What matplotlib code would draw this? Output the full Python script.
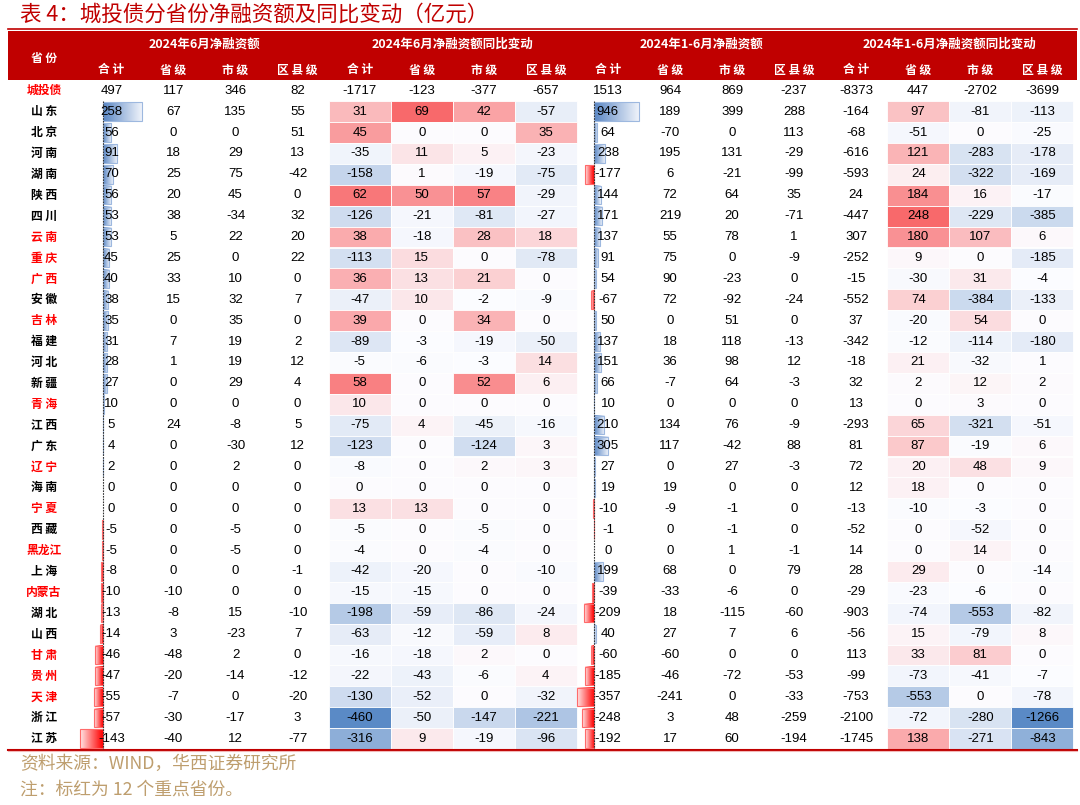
import numpy as np
import matplotlib.pyplot as plt
from matplotlib.colors import LinearSegmentedColormap, TwoSlopeNorm
from matplotlib.patches import Rectangle

plt.rcParams['font.family'] = ['Noto Sans CJK SC', 'DejaVu Sans']

# ---- data (亿元) ----
provinces = ['城投债', '山东', '北京', '河南', '湖南', '陕西', '四川', '云南', '重庆', '广西',
             '安徽', '吉林', '福建', '河北', '新疆', '青海', '江西', '广东', '辽宁', '海南',
             '宁夏', '西藏', '黑龙江', '上海', '内蒙古', '湖北', '山西', '甘肃', '贵州', '天津',
             '浙江', '江苏']
key_provinces = ['城投债', '云南', '重庆', '广西', '吉林', '青海', '辽宁', '宁夏', '黑龙江',
                 '内蒙古', '甘肃', '贵州', '天津']

# 2024年6月净融资额
jun_total = [497, 258, 56, 91, 70, 56, 53, 53, 45, 40, 38, 35, 31, 28, 27, 10, 5, 4, 2, 0, 0,
             -5, -5, -8, -10, -13, -14, -46, -47, -55, -57, -143]
jun_prov = [117, 67, 0, 18, 25, 20, 38, 5, 25, 33, 15, 0, 7, 1, 0, 0, 24, 0, 0, 0, 0,
            0, 0, 0, -10, -8, 3, -48, -20, -7, -30, -40]
jun_city = [346, 135, 0, 29, 75, 45, -34, 22, 0, 10, 32, 35, 19, 19, 29, 0, -8, -30, 2, 0, 0,
            -5, -5, 0, 0, 15, -23, 2, -14, 0, -17, 12]
jun_county = [82, 55, 51, 13, -42, 0, 32, 20, 22, 0, 7, 0, 2, 12, 4, 0, 5, 12, 0, 0, 0,
              0, 0, -1, 0, -10, 7, 0, -12, -20, 3, -77]

# 2024年6月净融资额同比变动
jun_yoy_total = [-1717, 31, 45, -35, -158, 62, -126, 38, -113, 36, -47, 39, -89, -5, 58, 10,
                 -75, -123, -8, 0, 13, -5, -4, -42, -15, -198, -63, -16, -22, -130, -460, -316]
jun_yoy_prov = [-123, 69, 0, 11, 1, 50, -21, -18, 15, 13, 10, 0, -3, -6, 0, 0,
                4, 0, 0, 0, 13, 0, 0, -20, -15, -59, -12, -18, -43, -52, -50, 9]
jun_yoy_city = [-377, 42, 0, 5, -19, 57, -81, 28, 0, 21, -2, 34, -19, -3, 52, 0,
                -45, -124, 2, 0, 0, -5, -4, 0, 0, -86, -59, 2, -6, 0, -147, -19]
jun_yoy_county = [-657, -57, 35, -23, -75, -29, -27, 18, -78, 0, -9, 0, -50, 14, 6, 0,
                  -16, 3, 3, 0, 0, 0, 0, -10, 0, -24, 8, 0, 4, -32, -221, -96]

# 2024年1-6月净融资额
h1_total = [1513, 946, 64, 238, -177, 144, 171, 137, 91, 54, -67, 50, 137, 151, 66, 10,
            210, 305, 27, 19, -10, -1, 0, 199, -39, -209, 40, -60, -185, -357, -248, -192]
h1_prov = [964, 189, -70, 195, 6, 72, 219, 55, 75, 90, 72, 0, 18, 36, -7, 0,
           134, 117, 0, 19, -9, 0, 0, 68, -33, 18, 27, -60, -46, -241, 3, 17]
h1_city = [869, 399, 0, 131, -21, 64, 20, 78, 0, -23, -92, 51, 118, 98, 64, 0,
           76, -42, 27, 0, -1, -1, 1, 0, -6, -115, 7, 0, -72, 0, 48, 60]
h1_county = [-237, 288, 113, -29, -99, 35, -71, 1, -9, 0, -24, 0, -13, 12, -3, 0,
             -9, 88, -3, 0, 0, 0, -1, 79, 0, -60, 6, 0, -53, -33, -259, -194]

# 2024年1-6月净融资额同比变动
h1_yoy_total = [-8373, -164, -68, -616, -593, 24, -447, 307, -252, -15, -552, 37, -342, -18,
                32, 13, -293, 81, 72, 12, -13, -52, 14, 28, -29, -903, -56, 113, -99, -753,
                -2100, -1745]
h1_yoy_prov = [447, 97, -51, 121, 24, 184, 248, 180, 9, -30, 74, -20, -12, 21, 2, 0,
               65, 87, 20, 18, -10, 0, 0, 29, -23, -74, 15, 33, -73, -553, -72, 138]
h1_yoy_city = [-2702, -81, 0, -283, -322, 16, -229, 107, 0, 31, -384, 54, -114, -32, 12, 3,
               -321, -19, 48, 0, -3, -52, 14, 0, -6, -553, -79, 81, -41, 0, -280, -271]
h1_yoy_county = [-3699, -113, -25, -178, -169, -17, -385, 6, -185, -4, -133, 0, -180, 1, 2, 0,
                 -51, 6, 9, 0, 0, 0, 0, -14, 0, -82, 8, 0, -7, -78, -1266, -843]

group_titles = ['2024年6月净融资额', '2024年6月净融资额同比变动',
                '2024年1-6月净融资额', '2024年1-6月净融资额同比变动']
sub_titles = ['合 计', '省 级', '市 级', '区 县 级']

columns = [jun_total, jun_prov, jun_city, jun_county,
           jun_yoy_total, jun_yoy_prov, jun_yoy_city, jun_yoy_county,
           h1_total, h1_prov, h1_city, h1_county,
           h1_yoy_total, h1_yoy_prov, h1_yoy_city, h1_yoy_county]
table = np.array(columns, dtype=float).T  # rows x 16

# colour-scaled column blocks (first, last column index), bar columns
heat_blocks = [(4, 7), (13, 15)]
bar_cols = [0, 8]

# ---- layout (pixel space) ----
W, H = 1080, 805
left_edge, right_edge = 8, 1077
x_first = 80.4
col_w = (1073.4 - x_first) / 16
row_top = 80.3
row_h = 20.9
n_rows = len(provinces)

HEADER_RED = '#C00000'
NUM_FONT = ['Liberation Sans', 'DejaVu Sans']

fig = plt.figure(figsize=(W / 100, H / 100), dpi=100)
ax = fig.add_axes([0, 0, 1, 1])
ax.axis('off')

def col_left(j):
    return x_first + j * col_w

def row_y(i):
    return row_top + i * row_h

# title
ax.text(20, 14.5, '表 4：城投债分省份净融资额及同比变动（亿元）', fontsize=15.5,
        color=HEADER_RED, va='center', ha='left')

# header band
ax.plot([left_edge, right_edge], [29.5, 29.5], color=HEADER_RED, lw=1.2)
ax.add_patch(Rectangle((left_edge, 31), right_edge - left_edge, row_top - 31,
                       facecolor=HEADER_RED, edgecolor='none'))
ax.text(44, 58, '省 份', color='white', fontsize=8.5, fontweight='bold', ha='center', va='center')
for g, title in enumerate(group_titles):
    cx = col_left(4 * g + 2)
    ax.text(cx, 44, title, color='white', fontsize=9, fontweight='bold', ha='center', va='center')
    for k, st in enumerate(sub_titles):
        ax.text(col_left(4 * g + k) + col_w / 2, 70, st, color='white', fontsize=8.5,
                fontweight='bold', ha='center', va='center')

# heatmap blocks (同比变动), one colour scale per block, 城投债 row excluded
heat_cmap = LinearSegmentedColormap.from_list('bwr_excel', ['#5A8AC6', '#FCFCFF', '#F8696B'])
for c0, c1 in heat_blocks:
    block = table[1:, c0:c1 + 1]
    norm = TwoSlopeNorm(vmin=block.min(), vcenter=0, vmax=block.max())
    for i in range(1, n_rows):
        for j in range(c0, c1 + 1):
            ax.add_patch(Rectangle((col_left(j), row_y(i)), col_w, row_h,
                                   facecolor=heat_cmap(norm(table[i, j])),
                                   edgecolor='white', lw=0.6, zorder=1))

# data bars (合计 of the two 净融资额 groups)
blue_cmap = LinearSegmentedColormap.from_list('bar_blue', ['#5A87C5', '#F2F5FB'])
red_cmap = LinearSegmentedColormap.from_list('bar_red', ['#FF0000', '#FFE6E6'])
grad = np.linspace(0, 1, 64)[None, :]
for j in bar_cols:
    vals = table[1:, j]
    vmin, vmax = vals.min(), vals.max()
    scale = col_w / (vmax - vmin)
    axis_x = col_left(j) + (-vmin) * scale
    for i in range(1, n_rows):
        v = table[i, j]
        if v == 0:
            continue
        y0, y1 = row_y(i) + 1.2, row_y(i) + row_h - 1.2
        end = axis_x + v * scale
        if v > 0:
            ax.imshow(grad, cmap=blue_cmap, extent=[axis_x, end, y1, y0], aspect='auto',
                      interpolation='bilinear', zorder=2)
            ec = '#9DB8DF'
        else:
            ax.imshow(grad[:, ::-1], cmap=red_cmap, extent=[end, axis_x, y1, y0], aspect='auto',
                      interpolation='bilinear', zorder=2)
            ec = '#FF6B6B'
        ax.add_patch(Rectangle((min(end, axis_x), y0), abs(end - axis_x), y1 - y0,
                               facecolor='none', edgecolor=ec, lw=0.8, zorder=3))
    ax.plot([axis_x, axis_x], [row_y(1), row_y(n_rows)], color='#333333', lw=0.8,
            ls=(0, (1.5, 1)), zorder=4)

# row labels and numbers
for i, name in enumerate(provinces):
    cy = row_y(i) + row_h / 2
    color = '#FF0000' if name in key_provinces else 'black'
    label = name if len(name) == 3 else ' '.join(name)
    ax.text(44, cy, label, color=color, fontsize=8.5, fontweight='bold', ha='center', va='center')
    for j in range(16):
        ax.text(col_left(j) + col_w / 2, cy, f'{int(table[i, j])}', fontsize=9.5,
                family=NUM_FONT, color='black', ha='center', va='center', zorder=5)

# bottom rule
ax.plot([left_edge, right_edge], [row_y(n_rows) + 0.5] * 2, color=HEADER_RED, lw=1.5)
ax.plot([left_edge, right_edge], [row_y(n_rows) + 2.3] * 2, color='#F2B8B8', lw=0.8)

# footnotes
ax.text(20, 764, '资料来源：WIND，华西证券研究所', fontsize=12.8, color='#BE9E6E', va='center', ha='left')
ax.text(20, 790, '注：标红为 12 个重点省份。', fontsize=12.8, color='#BE9E6E', va='center', ha='left')

ax.set_xlim(0, W)
ax.set_ylim(H, 0)
fig.savefig('out.png', dpi=100)
